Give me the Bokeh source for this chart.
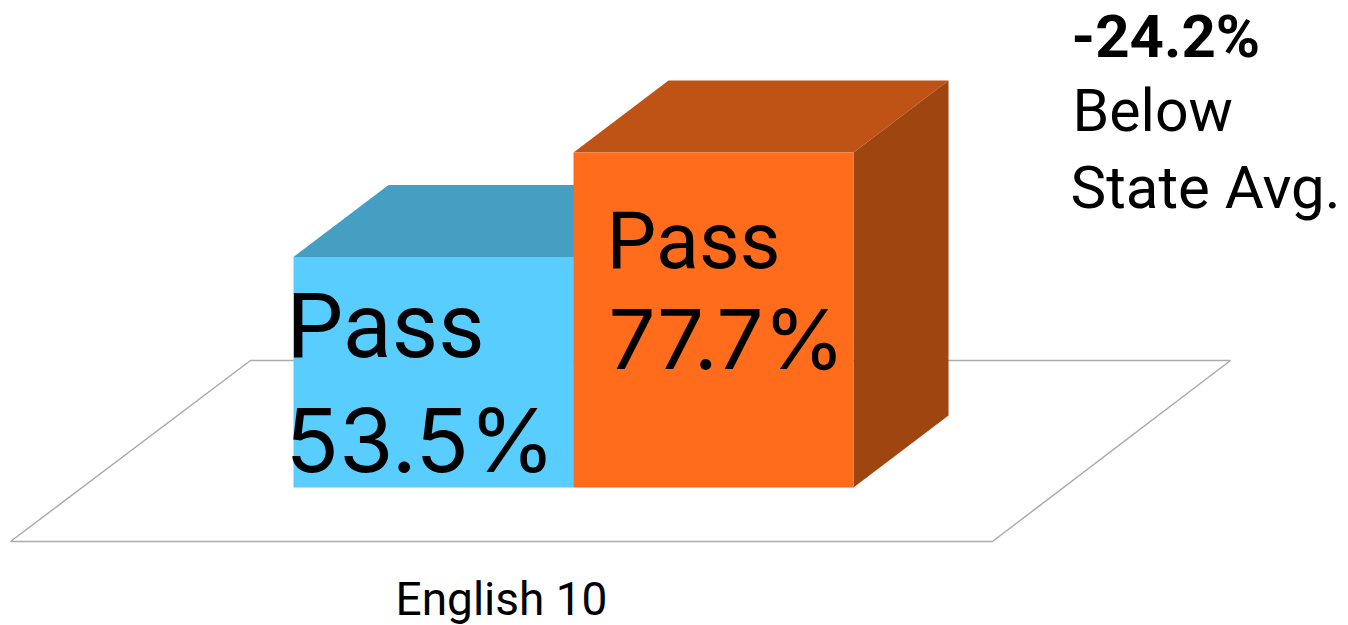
from bokeh.plotting import figure
from bokeh.embed import file_html
from bokeh.resources import INLINE
from bokeh.core.properties import value

# --- data ---
category = "English 10"
series_names = ["Pass", "Pass"]
series_values = [53.5, 77.7]
front_colors = ["#5ACDFF", "#FF6C1C"]
top_colors = ["#459FC3", "#BF5315"]
side_colors = ["#459FC3", "#9E4510"]
gap_labels = ["-24.2%", "Below", "State Avg."]

W, H = 1348, 625
PX_X = 280.0   # px per category slot
PX_Y = 4.31    # px per percent
X0_PX, Y0_PX = 293, 487   # px of (slot 0, value 0)

def X(px):
    return (px - X0_PX) / PX_X
def Y(px):
    return (Y0_PX - px) / PX_Y

p = figure(width=W, height=H, output_backend="svg", toolbar_location=None,
           x_range=(-X0_PX / PX_X, (W - X0_PX) / PX_X),
           y_range=(-(H - Y0_PX) / PX_Y, Y0_PX / PX_Y),
           min_border=0, outline_line_color=None)
p.axis.visible = False
p.grid.visible = False
p.background_fill_color = "white"

dx = 95 / PX_X
dy = 72 / PX_Y

# floor
p.patch([X(10), X(992), X(1230), X(250)], [Y(541), Y(541), Y(360), Y(360)],
        fill_color="white", line_color="#ABABAB", line_width=1.5)

for i, v in enumerate(series_values):
    x0, x1 = float(i), float(i + 1)
    p.patch([x0, x1, x1 + dx, x0 + dx], [v, v, v + dy, v + dy],
            fill_color=top_colors[i], line_color=None)
    p.patch([x1, x1 + dx, x1 + dx, x1], [0, dy, v + dy, v],
            fill_color=side_colors[i], line_color=None)
for i, v in enumerate(series_values):
    p.vbar(x=[i + 0.5], width=1.0, bottom=[0], top=[v], fill_color=front_colors[i], line_color=None)

def label(xpx, ypx, txt, size, font="Roboto", style="normal"):
    # ypx is the wanted baseline; the rendered baseline sits about a third of the size lower
    p.text(x=[X(xpx)], y=[Y(ypx - 0.34 * size)], text=[txt], text_font=value(font), text_font_style=style,
           text_font_size=f"{size}px", text_color="black", text_baseline="alphabetic", text_align="left")

label(286, 357, series_names[0], 90)
label(285, 469, f"{series_values[0]}%", 88, "Inter")
label(606, 267, series_names[1], 79)
label(608, 367, f"{series_values[1]}%", 83, "Inter")
label(1071, 56, gap_labels[0], 60, "Roboto", "bold")
label(1072, 130, gap_labels[1], 59)
label(1070, 207, gap_labels[2], 60)
label(395, 614, category, 46)

open("out.html", "w").write(file_html(p, INLINE))
